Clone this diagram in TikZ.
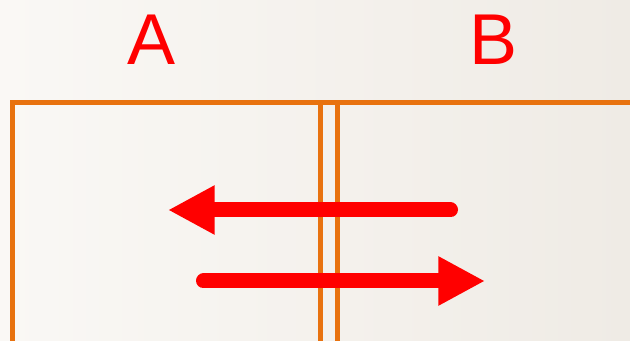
\documentclass[tikz,border=0pt]{standalone}
\usepackage{fontspec}
\setmainfont{Liberation Sans}
\usetikzlibrary{arrows.meta}
\definecolor{wall_orange}{HTML}{E8720F}
\definecolor{label_red}{HTML}{FF0000}
\definecolor{bg_light}{HTML}{FAF8F5}
\definecolor{bg_dark}{HTML}{EFEBE5}

\begin{document}
\begin{tikzpicture}[x=0.75pt, y=-0.75pt, every node/.style={font=\fontsize{54}{56}\selectfont, text=label_red},
  wall/.style={wall_orange, line width=3.75pt},
  flow/.style={label_red, line width=11.25pt, line cap=round, -{Triangle[length=35pt, width=34.5pt]}}]

  \useasboundingbox (0,0) rectangle (630,341);
  \shade[left color=bg_light, right color=bg_dark] (0,0) rectangle (630,341);

  \node (labelA) at (151.5,39.5) {A};
  \node (labelB) at (493.5,39.5) {B};

  % the two compartments, open at the bottom and at the right
  \draw[wall] (12.5,350) -- (12.5,103) -- (640,103);
  \draw[wall] (320,103) -- (320,350);
  \draw[wall] (337,103) -- (337,350);

  \coordinate (upStart) at (450.5,210);
  \coordinate (upEnd) at (168,210);
  \coordinate (lowStart) at (203.5,281);
  \coordinate (lowEnd) at (485,281);

  \draw[flow] (upStart) -- (upEnd);
  \draw[flow] (lowStart) -- (lowEnd);

\end{tikzpicture}
\end{document}
